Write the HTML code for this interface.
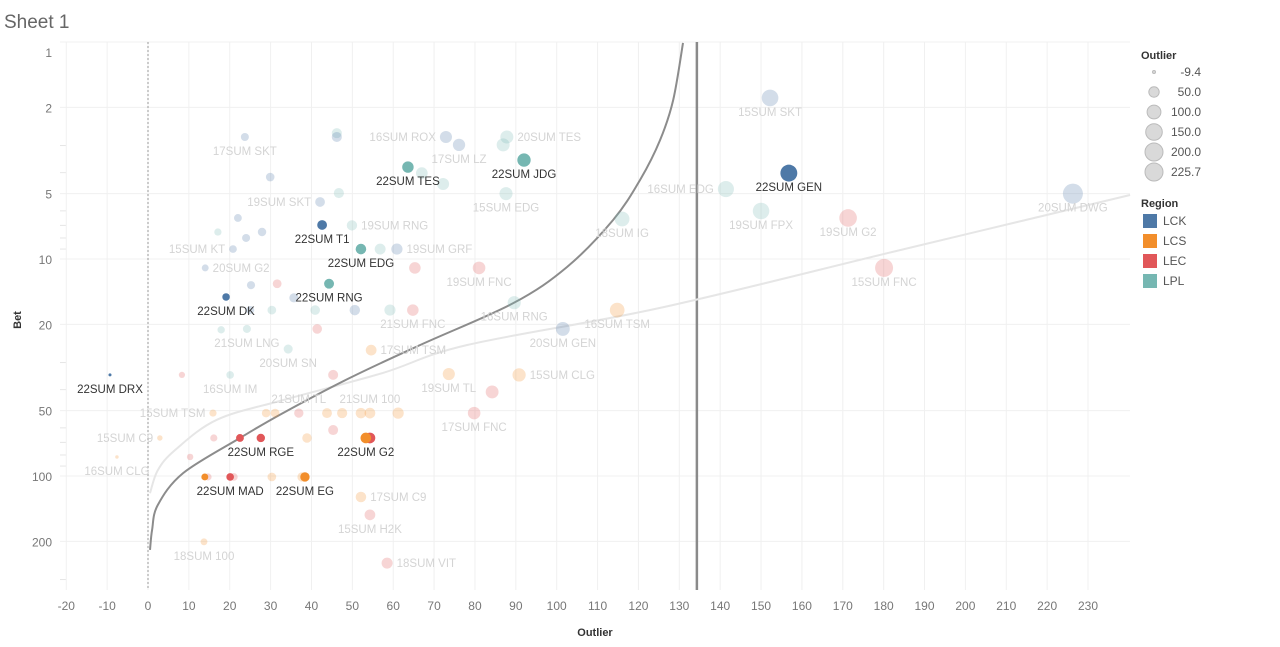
<!DOCTYPE html>
<html><head><meta charset="utf-8"><style>
body{margin:0;background:#fff;font-family:"Liberation Sans",sans-serif;}
svg{display:block}
</style></head><body>
<svg id="chart" width="1280" height="647" xmlns="http://www.w3.org/2000/svg">
<text x="4" y="28" font-size="19" fill="#666">Sheet 1</text>
<g id="grid"></g><g id="curves"></g><g id="marks"></g><g id="labels"></g><g id="axes"></g>
<text x="21" y="320" font-size="11" font-weight="bold" fill="#333" text-anchor="middle" transform="rotate(-90 21 320)">Bet</text>
<text x="595" y="636" font-size="11" font-weight="bold" fill="#333" text-anchor="middle">Outlier</text>
<g id="legend"></g>
</svg>
<script>
const names=[
"17SUM SKT","","","16SUM ROX","17SUM LZ","20SUM TES","","","22SUM TES","",
"22SUM JDG","","","19SUM SKT","15SUM EDG","","22SUM T1","19SUM RNG","","",
"","15SUM KT","22SUM EDG","","19SUM GRF","20SUM G2","","19SUM FNC","","",
"22SUM RNG","22SUM DK","","16SUM RNG","","","","","","21SUM FNC",
"16SUM TSM","","21SUM LNG","","20SUM GEN","20SUM SN","17SUM TSM","","16SUM IM","",
"19SUM TL","15SUM CLG","","22SUM DRX","15SUM TSM","21SUM TL","","","","",
"21SUM 100","","","17SUM FNC","15SUM C9","","","22SUM RGE","","",
"","22SUM G2","16SUM CLG","","","","","22SUM MAD","","",
"22SUM EG","17SUM C9","15SUM H2K","18SUM 100","18SUM VIT","18SUM IG","15SUM SKT","16SUM EDG","22SUM GEN","19SUM FPX",
"19SUM G2","15SUM FNC","20SUM DWG"];
const regions=[
"LCK","LPL","LCK","LCK","LCK","LPL","LPL","LPL","LPL","LPL",
"LPL","LCK","LPL","LCK","LPL","LCK","LCK","LPL","LPL","LCK",
"LCK","LCK","LPL","LPL","LCK","LCK","LEC","LEC","LCK","LEC",
"LPL","LCK","LCK","LPL","LCK","LPL","LPL","LCK","LPL","LEC",
"LCS","LPL","LPL","LEC","LCK","LPL","LCS","LEC","LPL","LEC",
"LCS","LCS","LEC","LCK","LCS","LEC","LCS","LCS","LCS","LCS",
"LCS","LCS","LCS","LEC","LCS","LEC","LEC","LEC","LEC","LCS",
"LEC","LCS","LCS","LEC","LCS","LEC","LEC","LEC","LCS","LCS",
"LCS","LCS","LEC","LCS","LEC","LPL","LCK","LPL","LCK","LPL",
"LEC","LEC","LCK"];
const outliers=[
23.7,46.2,46.2,72.9,76.1,87.8,86.9,67.0,63.6,72.2,
92.0,29.9,46.7,42.1,87.6,22.0,42.6,49.9,17.1,27.9,
24.0,20.8,52.1,56.8,60.9,14.0,65.3,81.0,25.2,31.6,
44.3,19.1,35.7,89.6,25.0,30.3,40.9,50.6,59.2,64.8,
114.8,17.9,24.2,41.4,101.5,34.3,54.6,8.3,20.1,45.3,
73.6,90.8,84.2,-9.3,15.9,36.9,28.9,31.1,43.8,47.5,
54.3,52.1,61.2,79.8,2.9,16.1,22.5,27.6,45.3,38.9,
54.3,53.3,-7.6,10.3,13.9,14.7,21.0,20.1,30.3,37.7,
38.4,52.1,54.3,13.7,58.5,116.0,152.2,141.4,156.8,150.0,
171.3,180.1,226.3];
const bets=[
2.74,2.63,2.74,2.74,2.98,2.74,2.98,4.02,3.77,4.51,
3.50,4.19,4.97,5.46,5.0,6.47,6.97,7.0,7.51,7.51,
8.0,9.0,9.0,9.0,9.0,10.99,10.99,10.99,13.2,13.0,
13.0,14.96,15.1,15.9,17.2,17.2,17.2,17.2,17.2,17.2,
17.2,21.2,21.0,21.0,21.0,26.0,26.3,34.2,34.2,34.2,
33.9,34.2,41.0,34.2,51.3,51.3,51.3,51.3,51.3,51.3,
51.3,51.3,51.3,51.3,66.8,66.8,66.8,66.8,61.4,66.8,
66.8,66.8,81.7,81.7,101,101,101,101,101,101,
101,125,151,201,252,6.54,1.81,4.76,4.02,6.01,
6.47,10.99,5.0];
const highlighted=[
0,0,0,0,0,0,0,0,1,0,
1,0,0,0,0,0,1,0,0,0,
0,0,1,0,0,0,0,0,0,0,
1,1,0,0,0,0,0,0,0,0,
0,0,0,0,0,0,0,0,0,0,
0,0,0,1,0,0,0,0,0,0,
0,0,0,0,0,0,1,1,0,0,
1,1,0,0,1,0,0,1,0,0,
1,0,0,0,0,0,0,0,1,0,
0,0,0];
const labelPos=[
"b","","","l","b","r","","","b","",
"b","","","l","b","","b","r","","",
"","l","b","","r","r","","b","","",
"b","b","","b","","","","","","b",
"b","","b","","b","b","r","","b","",
"b","r","","b","l","a","","","","",
"a","","","b","l","","","b","","",
"","b","b","","","","","b","","",
"b","r","b","b","r","b","b","l","b","b",
"b","b","b"];
const darkCurveX=[0.5,1.0,2.4,8.6,22.5,33.0,49.4,66.6,89.3,102.5,113.8,120.4,125.3,128.5,130.9];
const darkCurveY=[219,177,136,97,66.8,51.3,35.3,24.9,16.0,10.9,6.61,4.32,2.83,1.85,1.01];
const lightCurveX=[0.5,2.4,6.6,16.9,33.0,57.5,78.1,125.3,184,240.3];
const lightCurveY=[120,94,76,55,44.7,33.5,24.9,16.8,9.1,5.07];
const xTicks=[-20,-10,0,10,20,30,40,50,60,70,80,90,100,110,120,130,140,150,160,170,180,190,200,210,220,230];
const yTicks=[1,2,5,10,20,50,100,200];
const yMinor=[3,4,6,7,8,9,30,40,60,70,80,90,300];
const refLine=134.3;
const sizeLegend=[-9.4,50.0,100.0,150.0,200.0,225.7];
const regionNames=["LCK","LCS","LEC","LPL"];
const regionColors={LCK:"#4e79a7",LCS:"#f28e2b",LEC:"#e15759",LPL:"#76b7b2"};

const L=60,R=1130,T=42,B=590;
const xs=v=>148+v*4.087;
const ys=v=>259+(Math.log10(v)-1)*217;
const rs=v=>Math.sqrt(2.25+(v+9.4)/235.1*97.75);
const NS="http://www.w3.org/2000/svg";
function mk(tag,parent,attrs){const e=document.createElementNS(NS,tag);for(const k in attrs)e.setAttribute(k,attrs[k]);parent.appendChild(e);return e;}
const grid=document.getElementById('grid'),curves=document.getElementById('curves'),marks=document.getElementById('marks'),labels=document.getElementById('labels'),axes=document.getElementById('axes'),legend=document.getElementById('legend');

yMinor.forEach(v=>{const y=ys(v);if(y<T||y>B)return;const l=mk('line',grid,{x1:L,x2:L+6,y1:y,y2:y,stroke:'#e6e6e6'});

});
xTicks.forEach(v=>{const x=xs(v);const l=mk('line',grid,{x1:x,x2:x,y1:T,y2:B,stroke:'#f0f0f0'});


const t=mk('text',axes,{x:x,y:610,'font-size':12,fill:'#777','text-anchor':'middle'});t.textContent=v;

});
yTicks.forEach(v=>{const y=Math.max(ys(v),T+10);const l=mk('line',grid,{x1:L,x2:R,y1:ys(v),y2:ys(v),stroke:'#f0f0f0'});


const t=mk('text',axes,{x:52,y:y+5,'font-size':12,fill:'#777','text-anchor':'end'});t.textContent=v;

});
const zl=mk('line',grid,{x1:xs(0),x2:xs(0),y1:T,y2:B,stroke:'#999','stroke-dasharray':'2,2'});


const rl=mk('line',grid,{x1:xs(refLine),x2:xs(refLine),y1:T,y2:B,stroke:'#8a8a8a','stroke-width':2.5});



function curve(X,Y,color,name){
const P=X.map((v,i)=>[xs(v),ys(Y[i])]);
let d='M'+P[0][0].toFixed(1)+','+P[0][1].toFixed(1);
for(let i=0;i<P.length-1;i++){const p0=P[Math.max(i-1,0)],p1=P[i],p2=P[i+1],p3=P[Math.min(i+2,P.length-1)];
const c1=[p1[0]+(p2[0]-p0[0])/6,p1[1]+(p2[1]-p0[1])/6],c2=[p2[0]-(p3[0]-p1[0])/6,p2[1]-(p3[1]-p1[1])/6];
d+='C'+c1[0].toFixed(1)+','+c1[1].toFixed(1)+' '+c2[0].toFixed(1)+','+c2[1].toFixed(1)+' '+p2[0].toFixed(1)+','+p2[1].toFixed(1);}
const p=mk('path',curves,{d:d,fill:'none',stroke:color,'stroke-width':2});

}
curve(lightCurveX,lightCurveY,'#e6e6e6','light-trend-curve');
curve(darkCurveX,darkCurveY,'#8c8c8c','dark-trend-curve');

const order=outliers.map((_,i)=>i).sort((a,b)=>highlighted[a]-highlighted[b]);
order.forEach(i=>{const x=xs(outliers[i]),y=ys(bets[i]);const c=regionColors[regions[i]];
const hl=highlighted[i]===1;
const ci=mk('circle',marks,{cx:x,cy:y,r:rs(outliers[i]),fill:c,'fill-opacity':hl?1:0.25});


if(names[i]){const p=labelPos[i];let tx=x,ty=y+18,an='middle';
if(p==='l'){tx=x-rs(outliers[i])-4;ty=y+4;an='end';}
if(p==='r'){tx=x+rs(outliers[i])+4;ty=y+4;an='start';}
if(p==='a'){ty=y-10;}
const t=mk('text',labels,{x:tx,y:ty,'font-size':11.5,fill:hl?'#333':'#d4d4d4','text-anchor':an});t.textContent=names[i];

}});

const lt=mk('text',legend,{x:1141,y:59,'font-size':11,'font-weight':'bold',fill:'#333'});lt.textContent='Outlier';


sizeLegend.forEach((v,i)=>{const y=72+i*20;const c=mk('circle',legend,{cx:1154,cy:y,r:Math.min(rs(v),9),fill:'#d9d9d9',stroke:'#bbb'});


const t=mk('text',legend,{x:1201,y:y+4,'font-size':12,fill:'#555','text-anchor':'end'});t.textContent=v.toFixed(1);

});
const rt=mk('text',legend,{x:1141,y:207,'font-size':11,'font-weight':'bold',fill:'#333'});rt.textContent='Region';


regionNames.forEach((n,i)=>{const y=214+i*20;const r=mk('rect',legend,{x:1143,y:y,width:14,height:14,fill:regionColors[n]});


const t=mk('text',legend,{x:1163,y:y+11,'font-size':12,fill:'#555'});t.textContent=n;

});
</script>
</body></html>
